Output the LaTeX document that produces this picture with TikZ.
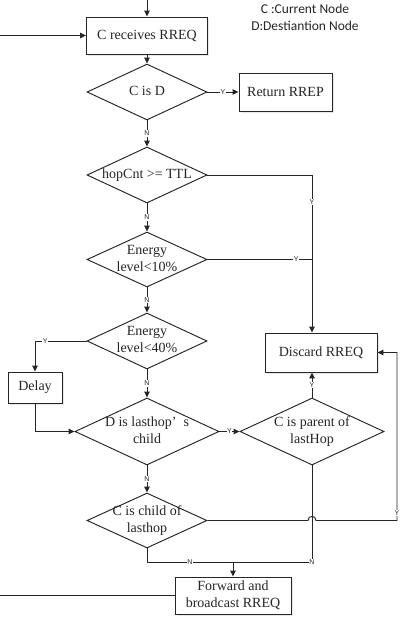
\documentclass[tikz,border=0pt]{standalone}
\usepackage{fontspec}
\setmainfont{Liberation Serif}
\newfontfamily\lblfont{Liberation Sans}
\newfontfamily\legfont{Carlito}
\usetikzlibrary{shapes.geometric,arrows.meta,shadows,calc}
\newcommand{\dtxt}[1]{\makebox[0pt]{\begin{tabular}{@{}c@{}}#1\end{tabular}}}
\begin{document}
\begin{tikzpicture}[x=1pt,y=-1pt,line width=0.95pt,color=black!85,
  proc/.style={draw,fill=white,rectangle,inner sep=0pt,align=center,
    font=\fontsize{14}{17}\selectfont,
    drop shadow={shadow xshift=1.5pt,shadow yshift=-1.5pt,opacity=0.18}},
  dec/.style={draw,fill=white,diamond,inner sep=0pt,aspect=2.14,
    minimum width=120pt,minimum height=56pt,
    font=\fontsize{14}{17}\selectfont},
  arr/.style={-{Triangle[length=6pt,width=5.5pt]}},
  lab/.style={font=\lblfont\fontsize{7}{8}\selectfont,fill=white,inner sep=0.6pt},
]
\useasboundingbox (0,0) rectangle (403,619);

% legend
\node[font=\legfont\fontsize{13.5}{16.7}\selectfont,align=center] (leg) at (305,17.5)
  {C :Current Node\\D:Destiantion Node};

% nodes
\node[proc,minimum width=121pt,minimum height=37pt] (recv) at (147,35.5) {C receives RREQ};
\node[dec] (cisd) at (147,92) {\dtxt{C is D}};
\node[proc,minimum width=93pt,minimum height=38pt] (rrep) at (285.5,92) {Return RREP};
\node[dec] (hop) at (147,175) {\dtxt{hopCnt >= TTL}};
\node[dec,minimum height=55pt] (e10) at (147,259.5) {\dtxt{Energy\\level<10\%}};
\node[dec] (e40) at (147,341) {\dtxt{Energy\\level<40\%}};
\node[proc,minimum width=112pt,minimum height=39pt] (discard) at (321,352.5) {Discard RREQ};
\node[proc,minimum width=54pt,minimum height=31pt] (delay) at (35,387.5) {Delay};
\node[dec,minimum width=144pt,minimum height=67pt] (dlc) at (147,431.5) {\dtxt{D is lasthop’\hspace{0.5em}s\\child}};
\node[dec,minimum width=144pt,minimum height=67pt] (cpar) at (312,431.5) {\dtxt{C is parent of\\lastHop}};
\node[dec,minimum height=55pt] (cchild) at (147,520.5) {\dtxt{C is child of\\lasthop}};
\node[proc,minimum width=116pt,minimum height=37pt] (fwd) at (233,595.5) {Forward and\\broadcast RREQ};

% free ends
\coordinate (topin) at (147,0);
\coordinate (leftin) at (0,35.5);
\coordinate (outl) at (0,595.5);
\coordinate (rx) at (397,352.5);
\coordinate (mj) at (233,562);

% connectors
\draw[arr] (topin) -- (recv.north);
\draw[arr] (leftin) -- (recv.west);
\draw[arr] (recv.south) -- (cisd.north);
\draw[arr] (cisd.east) -- node[lab]{Y} (rrep.west);
\draw[arr] (cisd.south) -- node[lab]{N} (hop.north);
\draw[arr] (hop.east) -| node[lab,pos=0.585]{Y} (cpar |- discard.north);
\draw[arr] (hop.south) -- node[lab]{N} (e10.north);
\draw (e10.east) -- node[lab,pos=0.85]{Y} (e10.east -| cpar);
\draw[arr] (e10.south) -- node[lab]{N} (e40.north);
\draw[arr] (e40.west) -| node[lab,pos=0.4]{Y} (delay.north);
\draw[arr] (e40.south) -- node[lab]{N} (dlc.north);
\draw[arr] (delay.south) |- (dlc.west);
\draw[arr] (dlc.east) -- node[lab]{Y} (cpar.west);
\draw[arr] (cpar.north) -- node[lab]{Y} (cpar |- discard.south);
\draw[arr] (dlc.south) -- node[lab]{N} (cchild.north);
\draw[arr] (cchild.east) -- ($(cpar|-cchild)+(-4,0)$)
  .. controls +(0,-5.5) and +(0,-5.5) .. ($(cpar|-cchild)+(4,0)$)
  -- (rx|-cchild) -- node[lab,pos=0.047]{Y} (rx) -- (discard.east);
\draw (cpar.south) |- node[lab]{N} (mj);
\draw[arr] (cchild.south) |- node[lab,pos=0.75]{N} (mj) -- (fwd.north);
\draw (fwd.west) -- (outl);
\end{tikzpicture}
\end{document}
